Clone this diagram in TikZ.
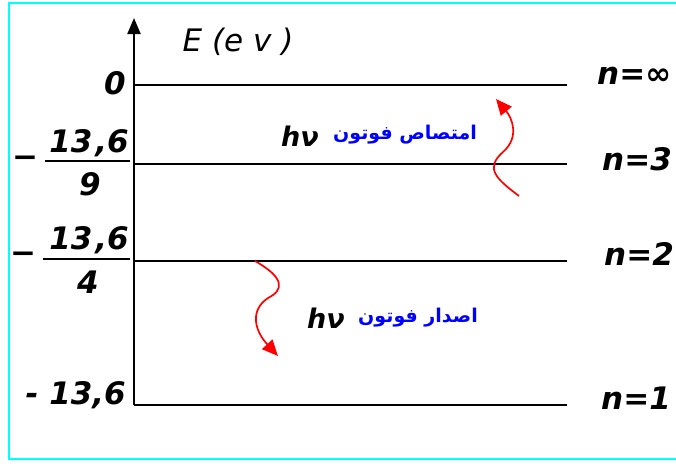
\documentclass[tikz,border=0pt]{standalone}
\usepackage{fontspec}
\setmainfont{DejaVu Sans}
\newfontfamily\arabicfont[Script=Arabic]{DejaVu Sans}
\usetikzlibrary{arrows.meta}
\TeXXeTstate=1

\definecolor{framecyan}{RGB}{0,255,255}
\newcommand*{\xaxis}{134}
\newcommand*{\xend}{567}

\begin{document}
\begin{tikzpicture}
[
	x=1pt,y=-1pt,
	level/.style={line width=2.2pt},
	lbl/.style={font=\fontsize{31}{31}\selectfont\bfseries\itshape,inner sep=0pt},
	unit/.style={font=\fontsize{31}{31}\selectfont\itshape,inner sep=0pt},
	hnu/.style={font=\fontsize{27}{27}\selectfont\bfseries\itshape,inner sep=0pt},
	arab/.style={blue,font=\fontsize{19}{19}\selectfont\bfseries\arabicfont,inner sep=0pt},
	photon/.style={red,line width=1.7pt,-{Triangle[length=16pt,width=14pt]}}
]

	% frame
	\useasboundingbox (0,0) rectangle (676,463);
	\draw[framecyan,line width=2.5pt] (9,3) rectangle (690,459);

	% axis
	\coordinate (o) at (\xaxis,405);
	\coordinate (top) at (\xaxis,18);
	\draw[level,-{Triangle[length=16pt,width=13pt]}] (o) -- (top);
	\node[unit] (E) at (238,42) {E (e v )};

	% levels
	\foreach \n/\y in {1/405,2/261,3/164,inf/85}
	{
		\coordinate (a\n) at (\xaxis,\y);
		\coordinate (b\n) at (\xend,\y);
		\draw[level] (a\n) -- (b\n);
	}

	\node[lbl,anchor=west] (ninf) at (597,76) {n=∞};
	\node[lbl,anchor=west] (n3) at (602,159) {n=3};
	\node[lbl,anchor=west] (n2) at (604,254) {n=2};
	\node[lbl,anchor=west] (n1) at (601,398) {n=1};

	% energies
	\node[lbl,anchor=east] (e0) at (126,83) {0};
	\node[lbl] (m3) at (25,162) {−};
	\node[lbl,anchor=east] (num3) at (129,143) {13\kern3pt,6};
	\node[lbl] (den3) at (90,184) {9};
	\coordinate (f3a) at (45,161);
	\coordinate (f3b) at (130,161);
	\draw[line width=1.2pt] (f3a) -- (f3b);
	\node[lbl] (m2) at (23,258) {−};
	\node[lbl,anchor=east] (num2) at (129,240) {13\kern3pt,6};
	\node[lbl] (den2) at (88,282) {4};
	\coordinate (f2a) at (43,259);
	\coordinate (f2b) at (130,259);
	\draw[line width=1.2pt] (f2a) -- (f2b);
	\node[lbl,anchor=east] (e1) at (126,395) {- 13,6};

	% photons
	\node[hnu] (hv1) at (300,136) {hν};
	\node[arab] (abs) at (405,135) {\beginR امتصاص فوتون\endR};
	\node[hnu] (hv2) at (326,318) {hν};
	\node[arab] (emi) at (418,318) {\beginR اصدار فوتون\endR};

	\coordinate (upstart) at (519,196);
	\coordinate (uptip) at (496,99);
	\draw[photon] (upstart) .. controls (495,178) and (485,168) .. (503,152)
		.. controls (520,137) and (512,118) .. (uptip);

	\coordinate (dnstart) at (255,261);
	\coordinate (dntip) at (278,356);
	\draw[photon] (dnstart) .. controls (285,278) and (284,290) .. (268,298)
		.. controls (250,310) and (254,330) .. (dntip);

\end{tikzpicture}
\end{document}
